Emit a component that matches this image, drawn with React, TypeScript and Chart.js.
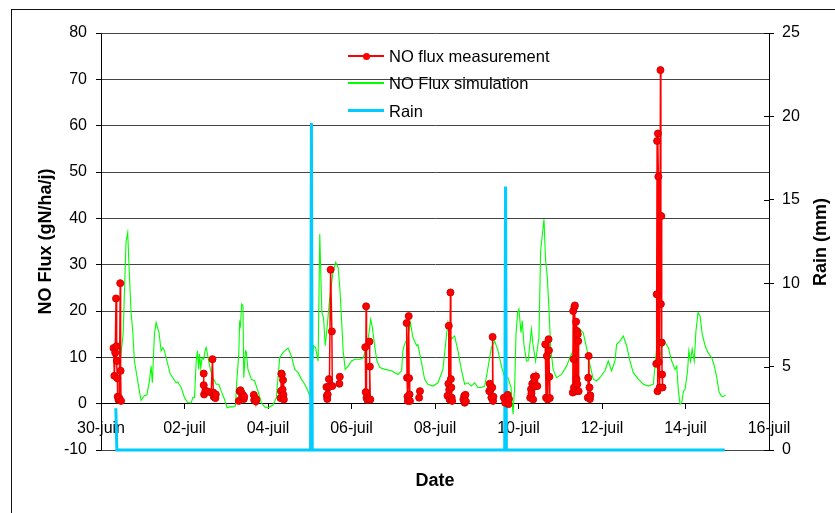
import React, { useEffect, useRef } from "react";
import { Chart, registerables } from "chart.js";

Chart.register(...registerables);

const FONT = "'Liberation Sans', Arial, sans-serif";

const DATE_LABELS = ["30-juin", "02-juil", "04-juil", "06-juil", "08-juil", "10-juil", "12-juil", "14-juil", "16-juil"];

// NO flux simulation (days since 30-juin, gN/ha/j)
const SIM_DAYS = [
  0.47, 0.53, 0.6, 0.64, 0.67, 0.72, 0.76, 0.8, 0.92, 0.96, 1.04, 1.1, 1.16, 1.2, 1.23, 1.28, 1.32, 1.39, 1.44, 1.48,
  1.52, 1.6, 1.66, 1.72, 1.8, 1.84, 1.92, 2.0, 2.08, 2.16, 2.2, 2.24, 2.28, 2.31, 2.34, 2.36, 2.39, 2.42, 2.46, 2.5,
  2.52, 2.58, 2.62, 2.68, 2.76, 2.82, 2.88, 2.96, 3.02, 3.08, 3.16, 3.22, 3.25, 3.3, 3.32, 3.34, 3.37, 3.4, 3.42, 3.46,
  3.48, 3.52, 3.6, 3.68, 3.76, 3.84, 3.92, 4.0, 4.12, 4.2, 4.28, 4.36, 4.44, 4.48, 4.56, 4.64, 4.72, 4.8, 4.88, 4.96,
  5.01, 5.09, 5.14, 5.2, 5.24, 5.26, 5.29, 5.33, 5.37, 5.4, 5.47, 5.55, 5.62, 5.68, 5.72, 5.76, 5.8, 5.85, 5.92, 6.0,
  6.08, 6.2, 6.28, 6.36, 6.42, 6.46, 6.5, 6.56, 6.61, 6.68, 6.8, 6.96, 7.11, 7.2, 7.23, 7.27, 7.35, 7.41, 7.47, 7.56,
  7.59, 7.67, 7.75, 7.83, 7.95, 8.07, 8.19, 8.27, 8.31, 8.39, 8.47, 8.55, 8.63, 8.71, 8.79, 8.87, 8.95, 9.03, 9.11, 9.19,
  9.27, 9.35, 9.43, 9.51, 9.59, 9.67, 9.75, 9.82, 9.87, 9.91, 9.94, 9.98, 10.01, 10.06, 10.09, 10.13, 10.19, 10.23, 10.31, 10.35,
  10.41, 10.49, 10.53, 10.61, 10.65, 10.69, 10.73, 10.77, 10.83, 10.91, 11.03, 11.15, 11.23, 11.31, 11.39, 11.47, 11.55, 11.63, 11.71, 11.79,
  11.87, 11.95, 12.07, 12.15, 12.23, 12.31, 12.35, 12.43, 12.51, 12.59, 12.67, 12.75, 12.87, 12.99, 13.11, 13.23, 13.31, 13.35, 13.43, 13.51,
  13.59, 13.67, 13.75, 13.79, 13.83, 13.87, 13.91, 13.95, 13.99, 14.05, 14.08, 14.12, 14.16, 14.21, 14.25, 14.3, 14.35, 14.4, 14.47, 14.54,
  14.63, 14.69, 14.75, 14.8, 14.85, 14.9, 14.96,
];
const SIM_FLUX = [
  10, 15, 35, 36.9, 30, 19.7, 15.7, 9.2, 2.7, 0.7, 1.7, 1.9, 4.9, 8.1, 4.5, 15, 17.5, 15.3, 11.4, 12.1,
  11.4, 8.5, 6.4, 5.6, 4.5, 4.7, 3.5, 1.3, 0.2, 0.2, 1.3, 1.3, 9.2, 11.4, 7.4, 10.7, 7.6, 9.9, 9.6, 11.8,
  12.1, 9.2, 7.4, 5.6, 4.2, 4.2, 2.7, 0.9, -0.9, -0.7, -0.7, -0.5, 4.5, 10.7, 17.5, 16.8, 21.5, 21.2, 5.6, 11.4,
  11.2, 7.4, 5.3, 4.9, 2.7, 0.2, -0.7, -0.9, -0.3, 1.3, 9.9, 11, 11.7, 12, 10.3, 7.4, 6.7, 5.3, 4.2, 2.7,
  1.3, 12.5, 12.1, 9.2, 36.6, 29.7, 19.7, 18.6, 12.5, 15, 22, 28, 30.5, 29.4, 25, 18.6, 11.4, 7.4, 8.1, 9.2,
  9.6, 9.6, 9.9, 12.1, 15.3, 18.2, 16.4, 12.1, 9.2, 7.8, 7.4, 7.1, 6.3, 7.1, 11.4, 12.8, 14.3, 17.5, 14.3, 12.5,
  12.8, 9.2, 5.3, 4.2, 3.8, 4.5, 7.4, 14.3, 17.5, 13.9, 14.6, 11.4, 7.4, 4.2, 4.5, 3.8, 4.5, 3.5, 3.5, 3.8,
  7.8, 12.1, 13.5, 11.4, 8.1, 5.6, 5.6, 3.5, -2.3, 4.2, 15, 19.7, 20.4, 15.3, 17.9, 12.8, 9.2, 9.2, 16.1, 12.5,
  9.2, 14.3, 33, 39.8, 30.8, 27.2, 20.4, 12.1, 7.4, 5.6, 6.3, 8.1, 9.9, 11.4, 13.9, 16.1, 15.3, 12.1, 8.5, 5.3,
  4.9, 5.6, 7.1, 9.2, 7.1, 9.2, 12.8, 13.5, 14.6, 12.5, 9.2, 6.7, 5.3, 4.2, 3.8, 4.2, 12.1, 8.5, 12.1, 13.2,
  12.1, 9.2, 7.4, 8.1, 2.7, -0.1, 0.2, 2.7, 3.1, 7.1, 11.4, 9.2, 11.8, 9.2, 15.7, 19.7, 18.9, 15, 12.5, 11,
  9.9, 8.1, 5.6, 2.7, 1.7, 1.5, 1.9,
];

// NO flux measurements (null flux separates measurement campaigns)
const MEAS_DAYS = [
  0.3, 0.32, 0.34, 0.36, 0.37, 0.38, 0.39, 0.4, 0.42, 0.44, 0.46, 0.47, 0.48, 1.0,
  2.46, 2.46, 2.47, 2.5, 2.56, 2.64, 2.67, 2.69, 2.7, 2.72, 2.74, 2.75, 3.0,
  3.3, 3.32, 3.34, 3.36, 3.38, 3.4, 3.42, 3.43, 3.55,
  3.66, 3.67, 3.69, 3.71, 3.72, 4.0,
  4.3, 4.31, 4.32, 4.33, 4.35, 4.36, 4.37, 4.38, 5.0,
  5.4, 5.41, 5.42, 5.43, 5.44, 5.46, 5.47, 5.5, 5.53, 5.54, 5.6,
  5.71, 5.72, 6.0,
  6.33, 6.34, 6.35, 6.36, 6.38, 6.42, 6.43, 6.44, 6.45, 7.0,
  7.32, 7.33, 7.34, 7.35, 7.37, 7.38, 7.39, 7.4, 7.5,
  7.62, 7.64, 8.0,
  8.3, 8.32, 8.33, 8.34, 8.35, 8.37, 8.38, 8.39, 8.4, 8.41, 8.5,
  8.68, 8.7, 8.71, 8.73, 8.74, 9.0,
  9.3, 9.31, 9.33, 9.35, 9.37, 9.38, 9.39, 9.4, 9.5,
  9.65, 9.68, 9.74, 9.76, 9.77, 10.0,
  10.28, 10.3, 10.31, 10.33, 10.35, 10.37, 10.38, 10.4, 10.42, 10.45, 10.55,
  10.64, 10.66, 10.68, 10.7, 10.72, 10.73, 10.74, 10.75, 11.0,
  11.3, 11.31, 11.32, 11.33, 11.34, 11.35, 11.37, 11.38, 11.39, 11.4, 11.41, 11.42, 11.43, 11.44, 11.55,
  11.66, 11.67, 11.68, 11.7, 11.71, 11.72, 12.0,
  13.3, 13.31, 13.32, 13.33, 13.34, 13.35, 13.36, 13.38, 13.4, 13.41, 13.42, 13.43, 13.44, 13.45,
];
const MEAS_FLUX = [
  12, 6, 11, 22.7, 12.4, 9.2, 5.5, 1.5, 0.8, 1.2, 26, 7.1, 0.6, null,
  6.5, 4, 2, 2.8, 2.6, 2.4, 9.6, 2.4, 1.5, 1.9, 1.2, 2.0, null,
  0.6, 2.7, 2.9, 2.4, 1.3, 1.9, 1.0, 1.5, null,
  1.9, 0.8, 1.2, 0.5, 0.9, null,
  1.2, 2.7, 6.5, 6.3, 3.0, 5.1, 1.9, 0.9, null,
  3.6, 1.7, 1.0, 2.0, 3.5, 5.3, 3.8, 28.9, 15.6, 3.8, null,
  4.3, 5.8, null,
  12.2, 2.5, 21, 1.3, 0.8, 1.0, 13.4, 8.0, 0.9, null,
  17.4, 5.6, 1.5, 0.6, 18.9, 5.5, 2.0, 0.6, null,
  1.3, 2.7, null,
  1.7, 4.3, 16.8, 3.0, 0.9, 24, 5.3, 3.5, 1.3, 0.6, null,
  0.9, 1.7, 0.2, 1.9, 0.5, null,
  2.7, 4.3, 3.1, 1.3, 3.5, 14.4, 0.6, 1.5, null,
  1.3, 0.2, 1.9, -0.1, 1.0, null,
  1.3, 3.1, 2.2, 4.3, 0.9, 5.8, 4.9, 3.8, 5.9, 3.8, null,
  12.8, 1.3, 10.3, 0.9, 13.9, 11.5, 5.8, 1.2, null,
  2.4, 20, 9.6, 3.5, 20.9, 21.2, 2.7, 17.7, 5.3, 15.7, 4.2, 15, 13.5, 2.7, null,
  1.3, 5.6, 10.3, 3.5, 1.0, 1.8, null,
  8.6, 23.6, 56.7, 2.7, 58.3, 49, 9.0, 3.5, 72, 21.5, 40.5, 13.2, 6.3, 3.5,
];

// Rain (mm)
const RAIN_DAYS = [0.355, 0.38, 5.02, 5.04, 5.06, 9.67, 9.69, 9.71, 14.94];
const RAIN_MM = [2.5, 0, 0, 19.6, 0, 0, 15.8, 0, 0];

const innerTicks = {
  id: "innerTicks",
  afterDraw(chart: any) {
    const s = chart.scales.y1;
    const { ctx, chartArea } = chart;
    ctx.save();
    ctx.strokeStyle = "#000";
    ctx.lineWidth = 1;
    s.ticks.forEach((t: any) => {
      const y = Math.round(s.getPixelForValue(t.value)) + 0.5;
      ctx.beginPath();
      ctx.moveTo(chartArea.right - 5, y);
      ctx.lineTo(chartArea.right, y);
      ctx.stroke();
    });
    ctx.restore();
  },
};

export default function App() {
  const ref = useRef<HTMLCanvasElement | null>(null);

  useEffect(() => {
    if (!ref.current) return;
    const sim = SIM_DAYS.map((x, i) => ({ x, y: SIM_FLUX[i] }));
    const meas = MEAS_DAYS.map((x, i) => ({ x, y: MEAS_FLUX[i] }));
    const rain = RAIN_DAYS.map((x, i) => ({ x, y: RAIN_MM[i] }));
    const tickFont = { family: FONT, size: 16 };
    const titleFont = { family: FONT, size: 18, weight: "bold" as const };

    const chart = new Chart(ref.current, {
      type: "line",
      data: {
        datasets: [
          {
            label: "NO flux measurement",
            data: meas as any,
            borderColor: "#FF0000",
            backgroundColor: "#FF0000",
            borderWidth: 1.5,
            pointRadius: 3.5,
            pointBackgroundColor: "#FF0000",
            pointBorderColor: "#D40000",
            pointBorderWidth: 1,
            spanGaps: false,
            yAxisID: "y",
            order: 1,
          },
          {
            label: "NO Flux simulation",
            data: sim as any,
            borderColor: "#00FF00",
            borderWidth: 1.1,
            pointRadius: 0,
            yAxisID: "y",
            order: 3,
          },
          {
            label: "Rain",
            data: rain as any,
            borderColor: "#00CCFF",
            borderWidth: 3,
            pointRadius: 0,
            yAxisID: "y1",
            clip: 5,
            order: 2,
          },
        ],
      },
      options: {
        animation: false,
        responsive: false,
        layout: { padding: { top: 33, bottom: 63, left: 0, right: 0 } },
        plugins: { legend: { display: false }, tooltip: { enabled: false } },
        elements: { line: { tension: 0 } },
        scales: {
          x: {
            type: "linear",
            min: 0,
            max: 16,
            position: { y: 0 } as any,
            ticks: {
              stepSize: 2,
              autoSkip: false,
              maxRotation: 0,
              padding: 10,
              color: "#000",
              font: tickFont,
              callback: (v: any) => DATE_LABELS[Math.round(Number(v) / 2)] ?? "",
            },
            grid: { drawOnChartArea: false, tickLength: 5, color: "#000", tickColor: "#000" },
            border: { color: "#000", width: 1 },
            title: { display: true, text: "Date", color: "#000", font: titleFont, padding: 0 },
            afterFit: (s: any) => {
              s.height = 88;
            },
          },
          y: {
            type: "linear",
            position: "left",
            min: -10,
            max: 80,
            ticks: { stepSize: 10, padding: 9, color: "#000", font: tickFont },
            grid: { color: "#444", tickColor: "#000", tickLength: 5 },
            border: { color: "#000", width: 1 },
            title: {
              display: true,
              text: "NO Flux (gN/ha/j)",
              color: "#000",
              font: titleFont,
              padding: { top: 35, bottom: 0 },
            },
            afterFit: (s: any) => {
              s.width = 101;
            },
          },
          y1: {
            type: "linear",
            position: "right",
            min: 0,
            max: 25,
            ticks: { stepSize: 5, padding: 8, color: "#000", font: tickFont },
            grid: { drawOnChartArea: false, tickLength: 5, color: "#000", tickColor: "#000" },
            border: { color: "#000", width: 1 },
            afterFit: (s: any) => {
              s.width = 66;
            },
          },
        },
      },
      plugins: [innerTicks],
    });
    return () => chart.destroy();
  }, []);

  const legendRows = [
    { label: "NO flux measurement", color: "#FF0000", width: 1.5, marker: true, y: 56 },
    { label: "NO Flux simulation", color: "#00FF00", width: 2, marker: false, y: 83 },
    { label: "Rain", color: "#00CCFF", width: 3.5, marker: false, y: 110.5 },
  ];

  return (
    <div
      style={{
        position: "fixed",
        left: 0,
        top: 0,
        width: 835,
        height: 513,
        overflow: "hidden",
        background: "#fff",
      }}
    >
      <div
        style={{
          position: "absolute",
          left: 11,
          top: 9,
          width: 1000,
          height: 1000,
          border: "1px solid #111",
        }}
      />
      <canvas ref={ref} width={835} height={513} style={{ position: "absolute", left: 0, top: 0 }} />
      {legendRows.map((r) => (
        <React.Fragment key={r.label}>
          <div
            style={{
              position: "absolute",
              left: 348,
              width: 36,
              top: r.y - r.width / 2,
              height: r.width,
              background: r.color,
            }}
          />
          {r.marker && (
            <div
              style={{
                position: "absolute",
                left: 366 - 3.5,
                top: r.y - 3.5,
                width: 7,
                height: 7,
                borderRadius: "50%",
                background: r.color,
              }}
            />
          )}
          <div
            style={{
              position: "absolute",
              left: 389,
              top: r.y - 11,
              height: 22,
              lineHeight: "22px",
              fontFamily: FONT,
              fontSize: 16.5,
              color: "#000",
              whiteSpace: "nowrap",
            }}
          >
            {r.label}
          </div>
        </React.Fragment>
      ))}
      <div
        style={{
          position: "absolute",
          left: 820,
          top: 242,
          transform: "translate(-50%, -50%) rotate(-90deg)",
          fontFamily: FONT,
          fontSize: 18,
          fontWeight: "bold",
          color: "#000",
          whiteSpace: "nowrap",
          lineHeight: "20px",
        }}
      >
        Rain (mm)
      </div>
    </div>
  );
}
